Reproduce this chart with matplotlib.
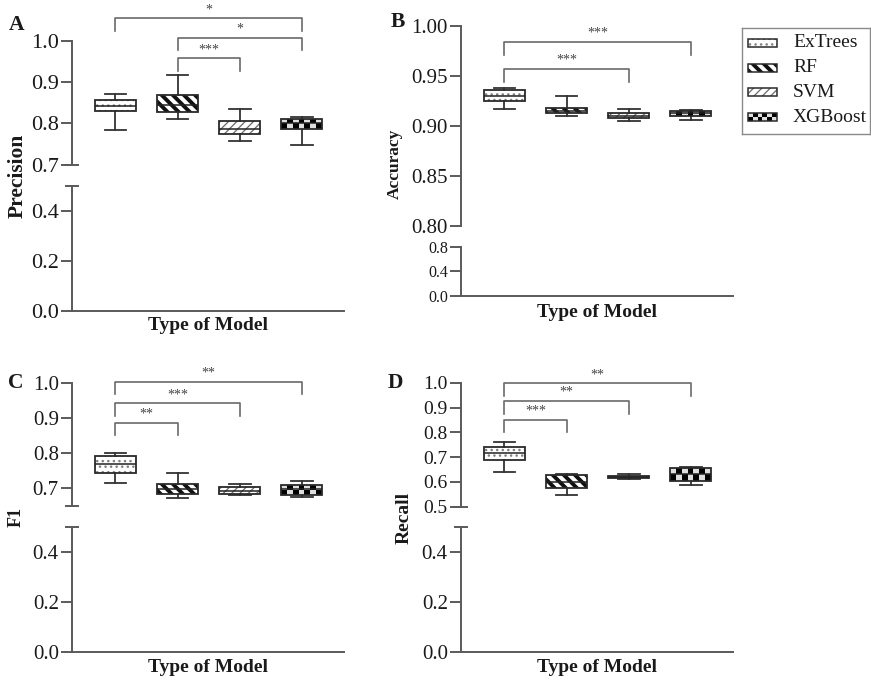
import numpy as np
import matplotlib.pyplot as plt
from matplotlib.patches import PathPatch, Rectangle

plt.rcParams['font.family'] = ['Liberation Serif', 'DejaVu Serif']

models = ['ExTrees', 'RF', 'SVM', 'XGBoost']

# box statistics per model: (whisker low, q1, median, q3, whisker high)
precision = [(0.784, 0.830, 0.843, 0.857, 0.871),
             (0.810, 0.828, 0.845, 0.869, 0.917),
             (0.757, 0.774, 0.786, 0.805, 0.834),
             (0.748, 0.786, 0.800, 0.812, 0.816)]
accuracy = [(0.917, 0.925, 0.930, 0.936, 0.938),
            (0.910, 0.913, 0.915, 0.918, 0.930),
            (0.905, 0.908, 0.910, 0.913, 0.917),
            (0.906, 0.910, 0.913, 0.915, 0.916)]
f1 = [(0.715, 0.745, 0.768, 0.792, 0.801),
      (0.672, 0.684, 0.697, 0.712, 0.745),
      (0.681, 0.684, 0.692, 0.703, 0.712),
      (0.676, 0.682, 0.697, 0.710, 0.722)]
recall = [(0.639, 0.688, 0.715, 0.739, 0.762),
          (0.547, 0.577, 0.600, 0.628, 0.630),
          (0.611, 0.615, 0.620, 0.625, 0.631),
          (0.588, 0.604, 0.630, 0.657, 0.660)]

# significance brackets: (model i, model j, bracket level, stars)
sig_precision = [(1, 4, 1.055, '*'), (2, 4, 1.008, '*'), (2, 3, 0.958, '***')]
sig_accuracy = [(1, 4, 0.984, '***'), (1, 3, 0.957, '***')]
sig_f1 = [(1, 4, 1.003, '**'), (1, 3, 0.942, '***'), (1, 2, 0.887, '**')]
sig_recall = [(1, 4, 0.997, '**'), (1, 3, 0.926, '**'), (1, 2, 0.850, '***')]

W, H = 871, 683
AX_COLOR = '#5a5a5a'
TXT = '#1a1a1a'

fills = {
    'ExTrees': dict(hatch='...', color='#808080', hlw=1.0),
    'RF': dict(hatch='\\\\\\', color='#111111', hlw=2.8),
    'SVM': dict(hatch='////', color='#6a6a6a', hlw=0.9),
    'XGBoost': dict(hatch=None, color='#222222', hlw=1.0),
}

fig = plt.figure(figsize=(W / 100, H / 100), dpi=100)


def px_axes(left, right, top, bottom):
    return fig.add_axes([left / W, 1 - bottom / H, (right - left) / W, (bottom - top) / H])


def checker(ax, x0, x1, y0, y1, cell, clip, z):
    (px0, py0), (px1, py1) = ax.transData.transform([(x0, y0), (x1, y1)])
    ncol = max(1, int(round(abs(px1 - px0) / cell)))
    nrow = max(1, int(round(abs(py1 - py0) / cell)))
    grid = np.add.outer(np.arange(nrow), np.arange(ncol)) % 2
    im = ax.imshow(grid, cmap='gray_r', vmin=-0.15, vmax=1, extent=(x0, x1, y0, y1),
                   aspect='auto', interpolation='nearest', zorder=z)
    if clip is not None:
        im.set_clip_path(clip)


def style_fill(patch, name):
    f = fills[name]
    patch.set_facecolor('white')
    patch.set_edgecolor(f['color'])
    patch.set_linewidth(0)
    if f['hatch']:
        patch.set_hatch(f['hatch'])
        if hasattr(patch, 'set_hatch_linewidth'):
            patch.set_hatch_linewidth(f['hlw'])


def draw_panel(stats, sigs, ylabel, ylab_xy, ylab_size, letter, letter_xy, left,
               hi_px, hi_lim, hi_ticks, hi_fmt, hi_size,
               lo_px, lo_lim, lo_ticks, lo_size, caps, xlab_y):
    right = left + 272
    ax_hi = px_axes(left, right, *hi_px)
    ax_lo = px_axes(left, right, *lo_px)
    for ax in (ax_hi, ax_lo):
        ax.set_xlim(0.3, 4.68)
        ax.patch.set_alpha(0)
        for s in ('top', 'right'):
            ax.spines[s].set_visible(False)
        for s in ('left', 'bottom'):
            ax.spines[s].set_color(AX_COLOR)
            ax.spines[s].set_linewidth(1.4)
        ax.set_xticks([])
        ax.tick_params(axis='y', length=8, width=1.4, color=AX_COLOR, labelcolor=TXT, pad=1.5)
    ax_hi.spines['bottom'].set_visible(False)
    ax_hi.set_ylim(*hi_lim)
    ax_lo.set_ylim(*lo_lim)
    ax_hi.set_yticks(hi_ticks, [hi_fmt % t for t in hi_ticks], fontsize=hi_size)
    ax_lo.set_yticks(lo_ticks, ['%.1f' % t for t in lo_ticks], fontsize=lo_size)

    if caps:
        d = 7 / 272
        for ax, yy in ((ax_hi, 0), (ax_lo, 1)):
            ax.plot([-d, d], [yy, yy], transform=ax.transAxes, color=AX_COLOR,
                    lw=1.4, clip_on=False, solid_capstyle='butt')

    pos = np.arange(1, 5)
    box_w = 0.66
    bxp_stats = [dict(whislo=s[0], q1=s[1], med=s[2], q3=s[3], whishi=s[4]) for s in stats]
    bp = ax_hi.bxp(bxp_stats, positions=pos, widths=box_w, capwidths=0.35,
                   patch_artist=True, showfliers=False, manage_ticks=False,
                   whiskerprops=dict(color='#333333', lw=1.3),
                   capprops=dict(color='#333333', lw=1.3),
                   medianprops=dict(color='#222222', lw=1.1, zorder=2.6))
    for name, p, box, s in zip(models, pos, bp['boxes'], stats):
        style_fill(box, name)
        if name == 'XGBoost':
            checker(ax_hi, p - box_w / 2, p + box_w / 2, s[1], s[3], 6.2, box, 2.2)
        ax_hi.add_patch(PathPatch(box.get_path(), transform=box.get_transform(),
                                  fill=False, ec='#2a2a2a', lw=1.3, zorder=2.5))
    ax_hi.set_xlim(0.3, 4.68)
    ax_hi.set_ylim(*hi_lim)

    # bracket legs drop by a fixed pixel length
    y_per_px = (hi_lim[1] - hi_lim[0]) / (hi_px[1] - hi_px[0])
    drop = 12.5 * y_per_px
    for i, j, lvl, stars in sigs:
        ax_hi.plot([i, i, j, j], [lvl - drop, lvl, lvl, lvl - drop], color='#6a6a6a',
                   lw=1.2, clip_on=False)
        ax_hi.annotate(stars, xy=((i + j) / 2, lvl), xytext=(0, 1.5), textcoords='offset points',
                       ha='center', va='bottom', fontsize=10, color='#444444',
                       annotation_clip=False)

    fig.text(ylab_xy[0] / W, 1 - ylab_xy[1] / H, ylabel, rotation=90, ha='center',
             va='center', fontsize=ylab_size, fontweight='bold', color=TXT)
    fig.text(letter_xy[0] / W, 1 - letter_xy[1] / H, letter, ha='center', va='center',
             fontsize=15.5, fontweight='bold', color=TXT)
    fig.text((left + 136) / W, 1 - xlab_y / H, 'Type of Model', ha='center', va='center',
             fontsize=14, fontweight='bold', color=TXT)


draw_panel(precision, sig_precision, 'Precision', (18, 176), 15.5, 'A', (17, 25), 72,
           (41, 164.7), (0.7, 1.0), [0.7, 0.8, 0.9, 1.0], '%.1f', 16,
           (185.7, 310.7), (0, 0.5), [0.0, 0.2, 0.4], 16, True, 325)
draw_panel(accuracy, sig_accuracy, 'Accuracy', (395, 164), 12.5, 'B', (398, 22), 461,
           (26, 226), (0.80, 1.00), [0.80, 0.85, 0.90, 0.95, 1.00], '%.2f', 15,
           (246.7, 296), (0, 0.8), [0.0, 0.4, 0.8], 11.5, False, 313)
draw_panel(f1, sig_f1, 'F1', (16, 517), 13, 'C', (16, 383), 72,
           (382.7, 506), (0.65, 1.0), [0.7, 0.8, 0.9, 1.0], '%.1f', 15,
           (527.3, 651.7), (0, 0.5), [0.0, 0.2, 0.4], 15, True, 668)
draw_panel(recall, sig_recall, 'Recall', (404, 518), 14, 'D', (395, 383), 461,
           (382.7, 506.7), (0.5, 1.0), [0.5, 0.6, 0.7, 0.8, 0.9, 1.0], '%.1f', 14,
           (527.3, 651.7), (0, 0.5), [0.0, 0.2, 0.4], 15, True, 668)

# legend drawn as a small framed panel
lax = fig.add_axes([742 / W, 1 - 134 / H, 128 / W, 106 / H])
lax.set_xlim(0, 128)
lax.set_ylim(106, 0)
lax.set_xticks([])
lax.set_yticks([])
for s in lax.spines.values():
    s.set_color('#8a8a8a')
    s.set_linewidth(1.0)
for k, name in enumerate(models):
    yc = 15 + k * 24.7
    r = Rectangle((6, yc - 4), 29, 8, zorder=2)
    lax.add_patch(r)
    style_fill(r, name)
    if name == 'XGBoost':
        checker(lax, 6, 35, yc + 4, yc - 4, 4.5, r, 2.2)
    lax.add_patch(Rectangle((6, yc - 4), 29, 8, fill=False, ec='#2a2a2a', lw=1.1, zorder=2.5))
    lax.text(51, yc, name, ha='left', va='center', fontsize=14, color=TXT)
lax.set_xlim(0, 128)
lax.set_ylim(106, 0)

fig.savefig('out.png', dpi=100)
